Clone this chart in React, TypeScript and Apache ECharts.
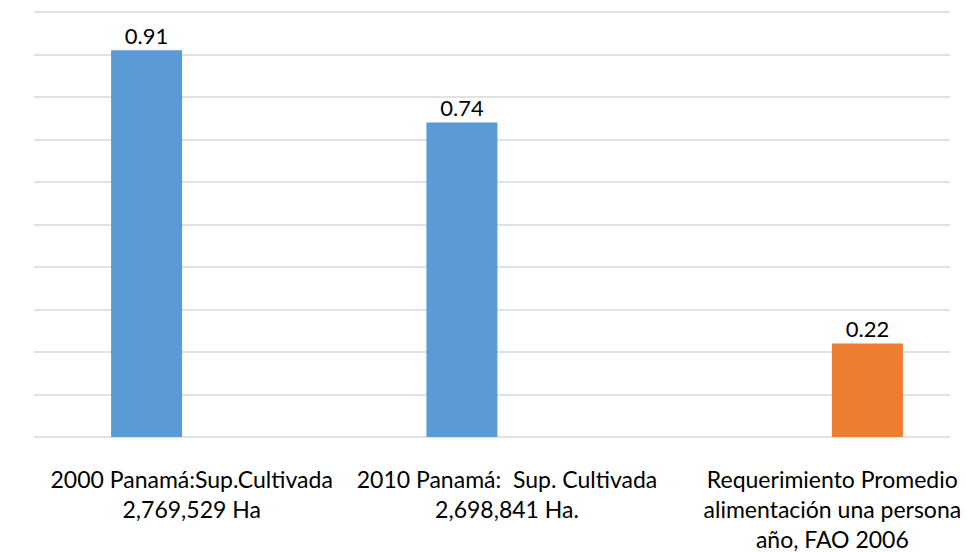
import React, { useEffect, useRef } from "react";
import * as echarts from "echarts";

const categories = [
  "2000 Panamá:Sup.Cultivada\n2,769,529 Ha",
  "2010 Panamá:  Sup. Cultivada\n2,698,841 Ha.",
  "Requerimiento Promedio\nalimentación una persona\naño, FAO 2006",
];
const cultivatedValues = [0.91, 0.74, null];
const requirementValues = [null, null, 0.22];
const yMin = 0;
const yMax = 1;
const yInterval = 0.1;

const FONT = "Lato";
const labelBase = { fontSize: 23, lineHeight: 30, color: "#000000", fontFamily: FONT };

export default function App() {
  const ref = useRef<HTMLDivElement>(null);
  useEffect(() => {
    if (!ref.current) return;
    const chart = echarts.init(ref.current, undefined, { renderer: "svg" });
    chart.setOption({
      animation: false,
      backgroundColor: "#ffffff",
      textStyle: { fontFamily: FONT },
      grid: [
        { left: 34, top: 12, width: 916, height: 425, outerBoundsMode: "none", containLabel: false },
        { left: 34, top: 12, width: 946, height: 425, outerBoundsMode: "none", containLabel: false },
      ],
      xAxis: [
        { type: "category", gridIndex: 0, data: categories, show: false },
        {
          type: "category",
          gridIndex: 1,
          data: categories,
          axisLine: { show: false },
          axisTick: { show: false },
          axisLabel: {
            interval: 0,
            hideOverlap: false,
            margin: 27,
            ...labelBase,
            formatter: (v: string, i: number) =>
              v
                .split("\n")
                .map((line) => (i === 2 ? `{s|${line}}` : `{n|${line}}`))
                .join("\n"),
            rich: {
              n: { ...labelBase },
              s: { ...labelBase, padding: [0, 0, 0, 20] },
            },
          },
        },
      ],
      yAxis: [
        {
          type: "value",
          gridIndex: 0,
          min: yMin,
          max: yMax,
          interval: yInterval,
          axisLabel: { show: false },
          axisLine: { show: false },
          axisTick: { show: false },
          splitLine: { show: true, lineStyle: { color: "#d9d9d9", width: 1.5 } },
        },
        {
          type: "value",
          gridIndex: 1,
          min: yMin,
          max: yMax,
          show: false,
          splitLine: { show: false },
        },
      ],
      series: [
        {
          type: "bar",
          xAxisIndex: 1,
          yAxisIndex: 1,
          data: cultivatedValues,
          barWidth: 71,
          barGap: "27%",
          itemStyle: { color: "#5b9bd5" },
          label: {
            show: true,
            position: "top",
            distance: 4,
            fontSize: 22,
            color: "#000000",
            fontFamily: FONT,
            formatter: (p: any) => Number(p.value).toFixed(2),
          },
        },
        {
          type: "bar",
          xAxisIndex: 1,
          yAxisIndex: 1,
          data: requirementValues,
          barWidth: 71,
          barGap: "27%",
          itemStyle: { color: "#ed7d31" },
          label: {
            show: true,
            position: "top",
            distance: 4,
            fontSize: 22,
            color: "#000000",
            fontFamily: FONT,
            formatter: (p: any) => Number(p.value).toFixed(2),
          },
        },
      ],
    });
    return () => chart.dispose();
  }, []);
  return <div ref={ref} style={{ width: 967, height: 552, position: "absolute", left: 0, top: 0 }} />;
}
